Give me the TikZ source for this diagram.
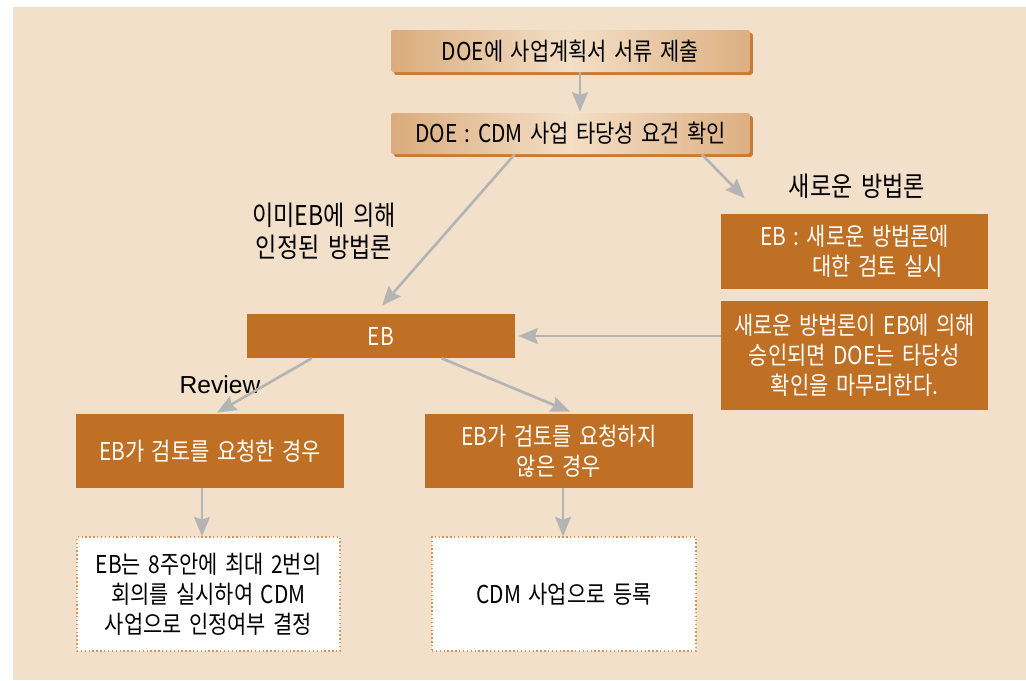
\documentclass[tikz,border=0pt]{standalone}
\usepackage{fontspec}
\setmainfont{Noto Sans CJK KR}[FakeStretch=0.85, WordSpace=1.6]
\newfontfamily\revfont{Liberation Sans}
\usetikzlibrary{arrows.meta,calc,shadows}
\definecolor{bgc}{HTML}{F2E0CB}
\definecolor{orc}{HTML}{BF7024}
\definecolor{gryc}{HTML}{B4B4B4}
\definecolor{tanl}{HTML}{DAAB7C}
\definecolor{tanm}{HTML}{F3DFC6}
\definecolor{tanr}{HTML}{DDAF82}
\definecolor{shc}{HTML}{C87B35}
\definecolor{dotc}{HTML}{D9964E}
\tikzset{
  txt/.style={font=\fontsize{14}{17}\selectfont, align=center, inner sep=0pt},
  gradbox/.style={txt, rounded corners=1pt, left color=tanl, right color=tanr, middle color=tanm,
    general shadow={fill=shc, shadow xshift=1.6pt, shadow yshift=-1.6pt}},
  orbox/.style={txt, fill=orc, text=white},
  whbox/.style={txt, fill=white, draw=dotc, line width=0.8pt, dash pattern=on 0.8pt off 1.4pt},
  arr/.style={draw=gryc, line width=1.5pt, -{Stealth[length=11pt, width=9pt, inset=1.5pt]}},
  lbl/.style={font=\fontsize{15.5}{18}\selectfont, align=center, inner sep=0pt}
}
\begin{document}
\begin{tikzpicture}[x=0.02cm, y=-0.02cm]
\useasboundingbox (0,0) rectangle (1026,680);
\fill[bgc] (13,7) rectangle (1026,680);

\node[gradbox, minimum width=7.18cm, minimum height=0.84cm] (b1) at (570.5,51) {DOE에 사업계획서 서류 제출};
\node[gradbox, minimum width=7.18cm, minimum height=0.82cm] (b2) at (570.5,133.5) {DOE : CDM 사업 타당성 요건 확인};

\node[orbox, minimum width=5.36cm, minimum height=0.88cm] (eb) at (381,336) {EB};
\node[orbox, minimum width=5.34cm, minimum height=1.5cm, align=left] (r1) at (854.5,251) {EB : 새로운 방법론에\\\hspace*{30pt}대한 검토 실시};
\node[orbox, minimum width=5.34cm, minimum height=2.18cm, font=\fontsize{14}{17}\selectfont] (r2) at (854.5,355.5) {새로운 방법론이 EB에 의해\\승인되면 DOE는 타당성\\확인을 마무리한다.};
\node[orbox, minimum width=5.36cm, minimum height=1.48cm] (l1) at (210,451) {EB가 검토를 요청한 경우};
\node[orbox, minimum width=5.36cm, minimum height=1.48cm] (l2) at (559,451) {EB가 검토를 요청하지\\않은 경우};
\node[whbox, minimum width=5.26cm, minimum height=2.28cm] (w1) at (208.5,594) {EB는 8주안에 최대 2번의\\회의를 실시하여 CDM\\사업으로 인정여부 결정};
\node[whbox, minimum width=5.28cm, minimum height=2.28cm] (w2) at (564,594) {CDM 사업으로 등록};

\node[lbl] (lnew) at (857,186) {새로운 방법론};
\node[lbl] (lold) at (324,231) {이미EB에 의해\\인정된 방법론};
\node[inner sep=0pt, font=\revfont\fontsize{14}{17}\selectfont] (lrev) at (220,385) {Review};

\draw[arr] ($(b1.south)+(9.5,0)$) -- ($(b2.north)+(9.5,-1)$);
\draw[arr] ($(b2.south west)+(124,0)$) -- ($(eb.north)+(1,-8)$);
\draw[arr] ($(b2.south west)+(311,0)$) -- ($(r1.north west)+(24,-15)$);
\draw[arr] ($(r2.west)+(0,-19.5)$) -- ($(eb.east)+(3,0)$);
\draw[arr] ($(eb.south west)+(65,0)$) -- ($(l1.north)+(7,-1)$);
\draw[arr] ($(eb.south west)+(195,0)$) -- ($(l2.north)+(11,-2)$);
\draw[arr] ($(l1.south)+(-8,0)$) -- ($(w1.north)+(-6.5,0)$);
\draw[arr] ($(l2.south)+(4,0)$) -- ($(w2.north)+(-1,0)$);
\end{tikzpicture}
\end{document}
